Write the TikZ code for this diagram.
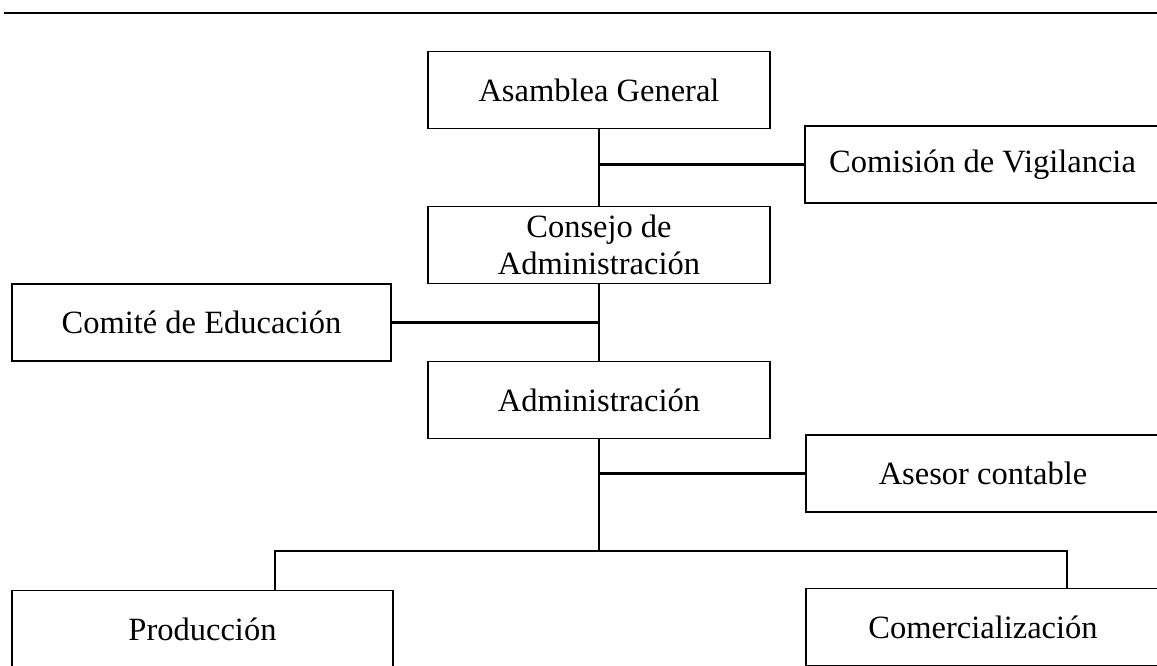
\documentclass[tikz,border=0pt]{standalone}
\usepackage{fontspec}
\setmainfont{Liberation Serif}
\usetikzlibrary{positioning}
\tikzset{node distance = 3.1cm, on grid,
         box/.style = {draw, line width = 1pt, inner sep = 0pt,
                       minimum height = 1.54cm, align = center,
                       font = \fontsize{18.5}{21.5}\selectfont},
         link/.style = {line width = 1.5pt}}

\begin{document}
\begin{tikzpicture}[x = 0.02cm, y = -0.02cm]
        \useasboundingbox (0,0) rectangle (1157,666);
        \draw[line width = 1pt] (4,13) -- (1157,13);

        \node[box, minimum width = 6.84cm] (asamblea) at (599,90)          {Asamblea General};
        \node[box, minimum width = 6.84cm] (consejo)  [below of = asamblea] {Consejo de\\Administración};
        \node[box, minimum width = 6.84cm] (admin)    [below of = consejo]  {Administración};

        \node[box, minimum width = 7.1cm]  (vigilancia) at (982.5,164.5) {Comisión de Vigilancia};
        \node[box, minimum width = 7.58cm] (educacion)  at (201.5,322.5) {Comité de Educación};
        \node[box, minimum width = 7.08cm] (asesor)     at (983,473.5)   {Asesor contable};
        \node[box, minimum width = 7.62cm] (produccion) at (202.5,629)   {Producción};
        \node[box, minimum width = 7.08cm] (comercial)  at (983,627)     {Comercialización};

        \coordinate (busL) at (275,551);
        \coordinate (busR) at (1067,551);

        \draw[link] (asamblea) -- (consejo);
        \draw[link] (consejo) -- (admin);
        \draw[link] (admin) -- (admin |- busL);
        \draw[link] (asamblea |- vigilancia) -- (vigilancia);
        \draw[link] (educacion) -- (consejo |- educacion);
        \draw[link] (admin |- asesor) -- (asesor);
        \draw[link] (busL |- produccion.north) -- (busL) -- (busR) -- (busR |- comercial.north);
\end{tikzpicture}
\end{document}
